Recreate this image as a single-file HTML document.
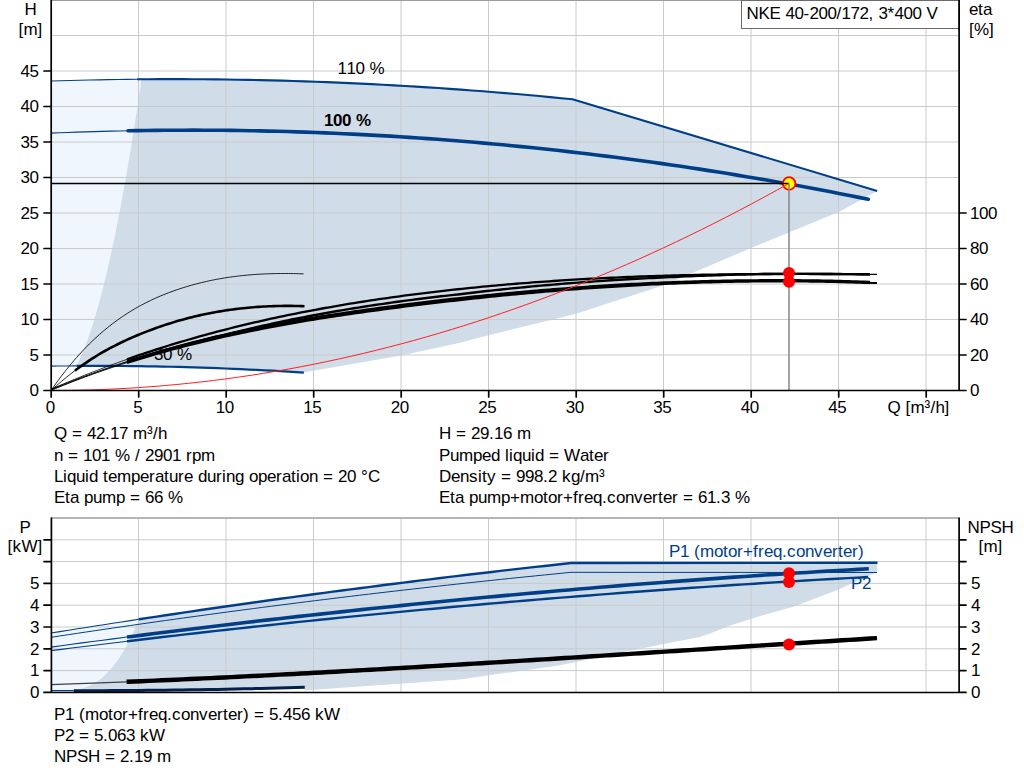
<!DOCTYPE html><html><head><meta charset="utf-8"><style>html,body{margin:0;padding:0;background:#fff;overflow:hidden}svg{display:block}text{font-family:"Liberation Sans",sans-serif;font-size:17px;fill:#000}</style></head><body>
<svg width="1024" height="781" viewBox="0 0 1024 781">
<polygon points="51.00,81.00 61.05,80.71 71.11,80.44 81.16,80.19 91.21,79.98 101.26,79.79 111.32,79.62 121.37,79.48 131.42,79.36 141.47,79.27 141.47,79.27 139.23,94.51 136.99,109.37 134.75,123.84 132.50,137.93 130.26,151.64 128.02,164.97 125.78,177.91 123.53,190.47 121.29,202.65 119.05,214.45 116.80,225.86 114.56,236.89 112.32,247.54 110.08,257.81 107.83,267.69 105.59,277.19 103.35,286.31 101.10,295.05 98.86,303.40 96.62,311.37 94.38,318.96 92.13,326.17 89.89,332.99 87.65,339.44 85.41,345.49 83.16,351.17 80.92,356.46 78.68,361.38 76.43,365.90 76.43,365.90 73.61,365.92 70.78,365.94 67.96,365.96 65.13,365.98 62.30,366.01 59.48,366.03 56.65,366.06 53.83,366.09 51.00,366.13" fill="#eff6fe" fill-opacity="1"/>
<polygon points="141.47,79.27 152.53,79.20 163.58,79.16 174.63,79.15 185.68,79.18 196.73,79.23 207.79,79.31 218.84,79.43 229.89,79.57 240.94,79.75 251.99,79.95 263.05,80.19 274.10,80.46 285.15,80.76 296.20,81.09 307.25,81.45 318.31,81.84 329.36,82.26 340.41,82.71 351.46,83.19 362.51,83.71 373.57,84.25 384.62,84.83 395.67,85.43 406.72,86.07 417.77,86.73 428.82,87.43 439.88,88.16 450.93,88.92 461.98,89.71 473.03,90.53 484.08,91.38 495.14,92.26 506.19,93.18 517.24,94.12 528.29,95.10 539.34,96.10 550.40,97.14 561.45,98.20 572.50,99.30 877.20,190.90 877.20,190.90 838.75,212.00 751.00,248.00 663.00,285.60 576.00,313.80 488.75,335.30 459.00,343.00 401.00,355.60 304.70,372.20 303.88,372.56 296.03,372.08 288.19,371.60 280.35,371.15 272.50,370.72 264.66,370.30 256.82,369.91 248.98,369.53 241.13,369.17 233.29,368.83 225.45,368.51 217.60,368.20 209.76,367.92 201.92,367.65 194.08,367.40 186.23,367.17 178.39,366.96 170.55,366.77 162.70,366.60 154.86,366.44 147.02,366.30 139.18,366.18 131.33,366.08 123.49,366.00 115.65,365.94 107.81,365.90 99.96,365.87 92.12,365.86 84.28,365.87 76.43,365.90 76.43,365.90 78.68,361.38 80.92,356.46 83.16,351.17 85.41,345.49 87.65,339.44 89.89,332.99 92.13,326.17 94.38,318.96 96.62,311.37 98.86,303.40 101.10,295.05 103.35,286.31 105.59,277.19 107.83,267.69 110.08,257.81 112.32,247.54 114.56,236.89 116.80,225.86 119.05,214.45 121.29,202.65 123.53,190.47 125.78,177.91 128.02,164.97 130.26,151.64 132.50,137.93 134.75,123.84 136.99,109.37 139.23,94.51 141.47,79.27" fill="#d0dce8" fill-opacity="1"/>
<path d="M138.50,1V390M226.00,1V390M313.50,1V390M401.00,1V390M488.50,1V390M576.00,1V390M663.50,1V390M751.00,1V390M838.50,1V390M926.00,1V390M52,355.00H958M52,319.50H958M52,284.00H958M52,248.50H958M52,213.00H958M52,177.50H958M52,142.00H958M52,106.50H958M52,71.00H958M52,35.50H958" stroke="#c8cacc" stroke-width="1" fill="none"/>
<path d="M51,0.5H959" stroke="#9a9da0" stroke-width="1.2"/>
<polyline points="51.00,81.00 60.57,80.72 70.13,80.46 79.70,80.23 89.27,80.02 98.83,79.83 108.40,79.66 117.97,79.52 127.53,79.40 137.10,79.31" fill="none" stroke="#003f87" stroke-width="1.1" stroke-linejoin="round" />
<polyline points="137.10,79.31 148.26,79.22 159.43,79.17 170.59,79.15 181.76,79.16 192.92,79.21 204.08,79.28 215.25,79.39 226.41,79.52 237.58,79.69 248.74,79.89 259.90,80.12 271.07,80.38 282.23,80.67 293.40,81.00 304.56,81.36 315.73,81.74 326.89,82.16 338.05,82.61 349.22,83.09 360.38,83.60 371.55,84.15 382.71,84.72 393.87,85.33 405.04,85.97 416.20,86.64 427.37,87.34 438.53,88.07 449.69,88.83 460.86,89.63 472.02,90.45 483.19,91.31 494.35,92.20 505.52,93.12 516.68,94.07 527.84,95.06 539.01,96.07 550.17,97.11 561.34,98.19 572.50,99.30 877.20,190.90" fill="none" stroke="#003f87" stroke-width="2.1" stroke-linejoin="round" />
<polyline points="51.00,133.12 59.56,132.78 68.11,132.45 76.67,132.14 85.22,131.86 93.78,131.60 102.33,131.36 110.89,131.14 119.44,130.94 128.00,130.77" fill="none" stroke="#003f87" stroke-width="1.1" stroke-linejoin="round" />
<polyline points="128.00,130.77 137.37,130.60 146.74,130.47 156.11,130.35 165.48,130.27 174.85,130.21 184.22,130.18 193.59,130.17 202.96,130.19 212.33,130.24 221.70,130.31 231.07,130.41 240.44,130.54 249.81,130.69 259.18,130.87 268.55,131.08 277.92,131.31 287.29,131.57 296.66,131.85 306.03,132.17 315.41,132.50 324.78,132.87 334.15,133.26 343.52,133.68 352.89,134.12 362.26,134.59 371.63,135.09 381.00,135.61 390.37,136.16 399.74,136.74 409.11,137.34 418.48,137.97 427.85,138.62 437.22,139.31 446.59,140.02 455.96,140.75 465.33,141.51 474.70,142.30 484.07,143.11 493.44,143.96 502.81,144.82 512.18,145.72 521.55,146.64 530.92,147.58 540.29,148.56 549.66,149.56 559.03,150.58 568.40,151.64 577.77,152.71 587.14,153.82 596.51,154.95 605.88,156.11 615.25,157.29 624.62,158.51 633.99,159.74 643.36,161.01 652.73,162.30 662.10,163.62 671.47,164.96 680.84,166.33 690.22,167.73 699.59,169.15 708.96,170.60 718.33,172.08 727.70,173.58 737.07,175.11 746.44,176.66 755.81,178.24 765.18,179.85 774.55,181.49 783.92,183.15 793.29,184.84 802.66,186.55 812.03,188.29 821.40,190.06 830.77,191.85 840.14,193.67 849.51,195.52 858.88,197.39 868.25,199.29" fill="none" stroke="#003f87" stroke-width="3.6" stroke-linejoin="round" stroke-linecap="round"/>
<polyline points="51.00,366.13 53.83,366.09 56.65,366.06 59.48,366.03 62.30,366.01 65.13,365.98 67.96,365.96 70.78,365.94 73.61,365.92 76.43,365.90" fill="none" stroke="#003f87" stroke-width="1.1" stroke-linejoin="round" />
<polyline points="76.43,365.90 84.28,365.87 92.12,365.86 99.96,365.87 107.81,365.90 115.65,365.94 123.49,366.00 131.33,366.08 139.18,366.18 147.02,366.30 154.86,366.44 162.70,366.60 170.55,366.77 178.39,366.96 186.23,367.17 194.08,367.40 201.92,367.65 209.76,367.92 217.60,368.20 225.45,368.51 233.29,368.83 241.13,369.17 248.98,369.53 256.82,369.91 264.66,370.30 272.50,370.72 280.35,371.15 288.19,371.60 296.03,372.08 303.88,372.56" fill="none" stroke="#003f87" stroke-width="2.2" stroke-linejoin="round" />
<text x="154 163 172 177" y="359.7">30 %</text>
<polyline points="51.10,390.37 53.65,386.71 56.20,383.14 58.75,379.65 61.30,376.24 63.85,372.92 66.40,369.68 68.95,366.52 71.50,363.43 74.05,360.43 76.61,357.50 79.16,354.65 81.71,351.87 84.26,349.17 86.81,346.54 89.36,343.98 91.91,341.48 94.46,339.06 97.01,336.70 99.56,334.41 102.11,332.18 104.66,330.01 107.21,327.91 109.76,325.87 112.31,323.89 114.86,321.96 117.41,320.10 119.96,318.28 122.51,316.53 125.06,314.82 127.62,313.17 130.17,311.57 132.72,310.02 135.27,308.52 137.82,307.06 140.37,305.65 142.92,304.29 145.47,302.96 148.02,301.69 150.57,300.45 153.12,299.25 155.67,298.09 158.22,296.97 160.77,295.88 163.32,294.83 165.87,293.81 168.42,292.82 170.97,291.87 173.52,290.95 176.07,290.05 178.63,289.18 181.18,288.34 183.73,287.53 186.28,286.74 188.83,285.98 191.38,285.25 193.93,284.54 196.48,283.86 199.03,283.21 201.58,282.58 204.13,281.97 206.68,281.39 209.23,280.83 211.78,280.29 214.33,279.78 216.88,279.29 219.43,278.83 221.98,278.38 224.53,277.96 227.08,277.56 229.64,277.18 232.19,276.82 234.74,276.49 237.29,276.17 239.84,275.87 242.39,275.59 244.94,275.33 247.49,275.09 250.04,274.87 252.59,274.67 255.14,274.48 257.69,274.31 260.24,274.16 262.79,274.03 265.34,273.91 267.89,273.80 270.44,273.72 272.99,273.65 275.54,273.59 278.09,273.55 280.65,273.52 283.20,273.51 285.75,273.51 288.30,273.52 290.85,273.55 293.40,273.59 295.95,273.64 298.50,273.71 301.05,273.78 303.60,273.87" fill="none" stroke="#000" stroke-width="0.85" stroke-linejoin="round" />
<polyline points="51.10,390.47 53.66,388.16 56.22,385.89 58.78,383.67 61.34,381.49 63.90,379.35 66.46,377.26 69.02,375.21 71.58,373.21 74.14,371.24 75.00,370.60" fill="none" stroke="#000" stroke-width="0.85" stroke-linejoin="round" />
<polyline points="75.00,370.60 76.70,369.32 79.26,367.45 81.82,365.62 84.37,363.82 86.93,362.08 89.49,360.37 92.05,358.71 94.61,357.08 97.17,355.50 99.73,353.96 102.29,352.46 104.85,351.00 107.41,349.58 109.97,348.20 112.53,346.86 115.09,345.54 117.65,344.26 120.21,343.01 122.77,341.79 125.33,340.60 127.89,339.43 130.45,338.28 133.01,337.16 135.57,336.06 138.13,334.98 140.69,333.92 143.25,332.89 145.81,331.88 148.36,330.88 150.92,329.91 153.48,328.96 156.04,328.03 158.60,327.13 161.16,326.24 163.72,325.37 166.28,324.53 168.84,323.71 171.40,322.90 173.96,322.12 176.52,321.36 179.08,320.61 181.64,319.89 184.20,319.19 186.76,318.50 189.32,317.84 191.88,317.20 194.44,316.57 197.00,315.97 199.56,315.38 202.12,314.81 204.68,314.26 207.24,313.73 209.79,313.22 212.35,312.73 214.91,312.26 217.47,311.80 220.03,311.37 222.59,310.95 225.15,310.54 227.71,310.16 230.27,309.79 232.83,309.45 235.39,309.11 237.95,308.80 240.51,308.50 243.07,308.22 245.63,307.96 248.19,307.71 250.75,307.48 253.31,307.27 255.87,307.07 258.43,306.89 260.99,306.72 263.55,306.57 266.11,306.43 268.67,306.32 271.23,306.21 273.78,306.12 276.34,306.05 278.90,305.99 281.46,305.95 284.02,305.92 286.58,305.91 289.14,305.91 291.70,305.92 294.26,305.95 296.82,305.99 299.38,306.05 301.94,306.12 304.50,306.20" fill="none" stroke="#000" stroke-width="2.6" stroke-linejoin="round" />
<polyline points="51.10,390.21 55.25,388.52 59.40,386.84 63.55,385.19 67.70,383.57 71.85,381.96 76.00,380.38 80.15,378.82 84.30,377.28 88.45,375.76 92.60,374.27 96.75,372.79 100.90,371.34 105.05,369.90 109.20,368.49 113.35,367.10 117.50,365.72 121.65,364.37 125.80,363.04 127.00,362.66" fill="none" stroke="#000" stroke-width="0.8" stroke-linejoin="round" />
<polyline points="51.10,390.21 55.25,388.48 59.40,386.76 63.55,385.07 67.70,383.40 71.85,381.75 76.00,380.13 80.15,378.53 84.30,376.95 88.45,375.39 92.60,373.85 96.75,372.33 100.90,370.84 105.05,369.36 109.20,367.91 113.35,366.47 117.50,365.06 121.65,363.67 125.80,362.29 127.00,361.90" fill="none" stroke="#000" stroke-width="0.8" stroke-linejoin="round" />
<polyline points="51.10,389.31 55.25,387.62 59.40,385.94 63.55,384.29 67.70,382.66 71.85,381.05 76.00,379.46 80.15,377.89 84.30,376.34 88.45,374.81 92.60,373.30 96.75,371.81 100.90,370.34 105.05,368.89 109.20,367.46 113.35,366.04 117.50,364.65 121.65,363.28 125.80,361.92 127.00,361.53" fill="none" stroke="#000" stroke-width="0.8" stroke-linejoin="round" />
<polyline points="51.10,389.31 55.25,387.50 59.40,385.70 63.55,383.93 67.70,382.18 71.85,380.45 76.00,378.74 80.15,377.05 84.30,375.38 88.45,373.73 92.60,372.10 96.75,370.49 100.90,368.90 105.05,367.33 109.20,365.78 113.35,364.25 117.50,362.73 121.65,361.24 125.80,359.76 127.00,359.34" fill="none" stroke="#000" stroke-width="0.8" stroke-linejoin="round" />
<polyline points="127.00,362.66 129.95,361.72 134.11,360.43 138.26,359.15 142.41,357.89 146.56,356.65 150.71,355.43 154.86,354.23 159.01,353.05 163.16,351.88 167.31,350.73 171.46,349.59 175.61,348.48 179.76,347.38 183.91,346.30 188.06,345.23 192.21,344.18 196.36,343.14 200.51,342.12 204.66,341.12 208.81,340.13 212.96,339.15 217.11,338.20 221.26,337.25 225.41,336.32 229.56,335.40 233.71,334.50 237.86,333.61 242.01,332.73 246.16,331.87 250.31,331.02 254.46,330.18 258.61,329.36 262.76,328.54 266.91,327.74 271.06,326.95 275.21,326.17 279.36,325.41 283.51,324.65 287.66,323.91 291.81,323.17 295.96,322.45 300.12,321.74 304.27,321.04 308.42,320.34 312.57,319.66 316.72,318.98 320.87,318.32 325.02,317.66 329.17,317.01 333.32,316.38 337.47,315.74 341.62,315.12 345.77,314.51 349.92,313.90 354.07,313.30 358.22,312.70 362.37,312.12 366.52,311.54 370.67,310.96 374.82,310.40 378.97,309.84 383.12,309.28 387.27,308.73 391.42,308.19 395.57,307.65 399.72,307.11 403.87,306.58 408.02,306.06 412.17,305.54 416.32,305.02 420.47,304.51 424.62,304.01 428.77,303.50 432.92,303.01 437.07,302.52 441.22,302.03 445.37,301.55 449.52,301.07 453.67,300.60 457.82,300.13 461.97,299.67 466.13,299.21 470.28,298.76 474.43,298.32 478.58,297.87 482.73,297.44 486.88,297.01 491.03,296.58 495.18,296.16 499.33,295.74 503.48,295.33 507.63,294.93 511.78,294.53 515.93,294.13 520.08,293.74 524.23,293.36 528.38,292.98 532.53,292.61 536.68,292.24 540.83,291.88 544.98,291.52 549.13,291.17 553.28,290.83 557.43,290.49 561.58,290.15 565.73,289.82 569.88,289.50 574.03,289.18 578.18,288.87 582.33,288.57 586.48,288.27 590.63,287.97 594.78,287.68 598.93,287.40 603.08,287.13 607.23,286.86 611.38,286.59 615.53,286.33 619.68,286.08 623.83,285.83 627.98,285.59 632.14,285.36 636.29,285.13 640.44,284.91 644.59,284.69 648.74,284.48 652.89,284.27 657.04,284.08 661.19,283.88 665.34,283.70 669.49,283.52 673.64,283.35 677.79,283.18 681.94,283.02 686.09,282.87 690.24,282.72 694.39,282.58 698.54,282.44 702.69,282.32 706.84,282.19 710.99,282.08 715.14,281.97 719.29,281.87 723.44,281.77 727.59,281.68 731.74,281.60 735.89,281.53 740.04,281.46 744.19,281.40 748.34,281.34 752.49,281.29 756.64,281.25 760.79,281.22 764.94,281.19 769.09,281.17 773.24,281.15 777.39,281.15 781.54,281.15 785.69,281.15 789.84,281.17 793.99,281.19 798.15,281.22 802.30,281.25 806.45,281.29 810.60,281.34 814.75,281.40 818.90,281.46 823.05,281.53 827.20,281.61 831.35,281.70 835.50,281.79 839.65,281.89 843.80,282.00 847.95,282.11 852.10,282.23 856.25,282.36 860.40,282.50 864.55,282.64 868.70,282.80 870.00,282.85" fill="none" stroke="#000" stroke-width="2.6" stroke-linejoin="round" />
<polyline points="127.00,361.90 129.95,360.93 134.11,359.60 138.26,358.28 142.41,356.98 146.56,355.70 150.71,354.44 154.86,353.19 159.01,351.97 163.16,350.76 167.31,349.57 171.46,348.39 175.61,347.23 179.76,346.09 183.91,344.97 188.06,343.86 192.21,342.77 196.36,341.69 200.51,340.63 204.66,339.58 208.81,338.55 212.96,337.54 217.11,336.53 221.26,335.55 225.41,334.58 229.56,333.62 233.71,332.70 237.86,331.81 242.01,330.93 246.16,330.07 250.31,329.22 254.46,328.38 258.61,327.56 262.76,326.74 266.91,325.94 271.06,325.15 275.21,324.37 279.36,323.61 283.51,322.85 287.66,322.11 291.81,321.37 295.96,320.65 300.12,319.94 304.27,319.24 308.42,318.54 312.57,317.86 316.72,317.18 320.87,316.52 325.02,315.86 329.17,315.21 333.32,314.58 337.47,313.94 341.62,313.32 345.77,312.71 349.92,312.10 354.07,311.50 358.22,310.90 362.37,310.32 366.52,309.74 370.67,309.16 374.82,308.60 378.97,308.04 383.12,307.48 387.27,306.93 391.42,306.39 395.57,305.85 399.72,305.31 403.87,304.78 408.02,304.26 412.17,303.74 416.32,303.22 420.47,302.71 424.62,302.21 428.77,301.70 432.92,301.21 437.07,300.72 441.22,300.23 445.37,299.75 449.52,299.27 453.67,298.80 457.82,298.33 461.97,297.88 466.13,297.43 470.28,296.99 474.43,296.56 478.58,296.13 482.73,295.71 486.88,295.29 491.03,294.87 495.18,294.46 499.33,294.06 503.48,293.66 507.63,293.27 511.78,292.88 515.93,292.50 520.08,292.12 524.23,291.75 528.38,291.39 532.53,291.03 536.68,290.67 540.83,290.32 544.98,289.98 549.13,289.64 553.28,289.31 557.43,288.98 561.58,288.66 565.73,288.34 569.88,288.03 574.03,287.73 578.18,287.43 582.33,287.13 586.48,286.85 590.63,286.57 594.78,286.29 598.93,286.02 603.08,285.76 607.23,285.50 611.38,285.24 615.53,285.00 619.68,284.76 623.83,284.52 627.98,284.30 632.14,284.07 636.29,283.86 640.44,283.65 644.59,283.44 648.74,283.24 652.89,283.05 657.04,282.87 661.19,282.69 665.34,282.52 669.49,282.35 673.64,282.19 677.79,282.03 681.94,281.89 686.09,281.74 690.24,281.61 694.39,281.48 698.54,281.36 702.69,281.24 706.84,281.13 710.99,281.03 715.14,280.94 719.29,280.85 723.44,280.76 727.59,280.69 731.74,280.62 735.89,280.55 740.04,280.50 744.19,280.45 748.34,280.41 752.49,280.37 756.64,280.34 760.79,280.32 764.94,280.29 769.09,280.27 773.24,280.25 777.39,280.25 781.54,280.25 785.69,280.25 789.84,280.27 793.99,280.29 798.15,280.32 802.30,280.35 806.45,280.39 810.60,280.44 814.75,280.50 818.90,280.56 823.05,280.63 827.20,280.71 831.35,280.80 835.50,280.89 839.65,280.99 843.80,281.10 847.95,281.21 852.10,281.33 856.25,281.46 860.40,281.60 864.55,281.74 868.70,281.90 870.00,281.95" fill="none" stroke="#000" stroke-width="2.4" stroke-linejoin="round" />
<polyline points="127.00,361.53 129.95,360.58 134.11,359.26 138.26,357.96 142.41,356.68 146.56,355.41 150.71,354.17 154.86,352.94 159.01,351.73 163.16,350.53 167.31,349.35 171.46,348.19 175.61,347.05 179.76,345.92 183.91,344.81 188.06,343.72 192.21,342.64 196.36,341.58 200.51,340.54 204.66,339.51 208.81,338.49 212.96,337.50 217.11,336.51 221.26,335.55 225.41,334.59 229.56,333.66 233.71,332.66 237.86,331.63 242.01,330.62 246.16,329.62 250.31,328.64 254.46,327.67 258.61,326.71 262.76,325.77 266.91,324.84 271.06,323.93 275.21,323.03 279.36,322.14 283.51,321.26 287.66,320.40 291.81,319.55 295.96,318.72 300.12,317.89 304.27,317.08 308.42,316.28 312.57,315.49 316.72,314.72 320.87,313.95 325.02,313.20 329.17,312.46 333.32,311.73 337.47,311.02 341.62,310.31 345.77,309.61 349.92,308.93 354.07,308.25 358.22,307.59 362.37,306.94 366.52,306.29 370.67,305.66 374.82,305.03 378.97,304.42 383.12,303.82 387.27,303.22 391.42,302.64 395.57,302.06 399.72,301.49 403.87,300.93 408.02,300.38 412.17,299.84 416.32,299.31 420.47,298.79 424.62,298.27 428.77,297.76 432.92,297.27 437.07,296.78 441.22,296.30 445.37,295.82 449.52,295.36 453.67,294.90 457.82,294.45 461.97,293.97 466.13,293.47 470.28,292.97 474.43,292.48 478.58,292.00 482.73,291.53 486.88,291.06 491.03,290.60 495.18,290.15 499.33,289.71 503.48,289.27 507.63,288.84 511.78,288.42 515.93,288.00 520.08,287.60 524.23,287.20 528.38,286.80 532.53,286.42 536.68,286.04 540.83,285.66 544.98,285.30 549.13,284.94 553.28,284.58 557.43,284.24 561.58,283.90 565.73,283.56 569.88,283.24 574.03,282.92 578.18,282.60 582.33,282.29 586.48,281.99 590.63,281.69 594.78,281.40 598.93,281.12 603.08,280.84 607.23,280.57 611.38,280.30 615.53,280.04 619.68,279.79 623.83,279.54 627.98,279.29 632.14,279.05 636.29,278.82 640.44,278.59 644.59,278.37 648.74,278.15 652.89,277.94 657.04,277.73 661.19,277.53 665.34,277.33 669.49,277.14 673.64,276.95 677.79,276.77 681.94,276.59 686.09,276.42 690.24,276.25 694.39,276.08 698.54,275.92 702.69,275.77 706.84,275.61 710.99,275.47 715.14,275.32 719.29,275.19 723.44,275.05 727.59,274.92 731.74,274.79 735.89,274.67 740.04,274.55 744.19,274.44 748.34,274.33 752.49,274.22 756.64,274.11 760.79,274.03 764.94,274.00 769.09,273.98 773.24,273.96 777.39,273.95 781.54,273.93 785.69,273.92 789.84,273.92 793.99,273.92 798.15,273.92 802.30,273.92 806.45,273.92 810.60,273.93 814.75,273.95 818.90,273.96 823.05,273.98 827.20,274.00 831.35,274.02 835.50,274.04 839.65,274.07 843.80,274.10 847.95,274.13 852.10,274.16 856.25,274.20 860.40,274.23 864.55,274.27 868.70,274.31 870.00,274.33" fill="none" stroke="#000" stroke-width="2.4" stroke-linejoin="round" />
<polyline points="127.00,359.34 129.95,358.30 134.11,356.87 138.26,355.44 142.41,354.04 146.56,352.66 150.71,351.29 154.86,349.94 159.01,348.61 163.16,347.29 167.31,346.00 171.46,344.72 175.61,343.45 179.76,342.21 183.91,340.98 188.06,339.76 192.21,338.57 196.36,337.38 200.51,336.22 204.66,335.07 208.81,333.94 212.96,332.82 217.11,331.72 221.26,330.63 225.41,329.56 229.56,328.50 233.71,327.46 237.86,326.43 242.01,325.42 246.16,324.42 250.31,323.44 254.46,322.47 258.61,321.51 262.76,320.57 266.91,319.64 271.06,318.73 275.21,317.83 279.36,316.94 283.51,316.06 287.66,315.20 291.81,314.35 295.96,313.52 300.12,312.69 304.27,311.88 308.42,311.08 312.57,310.29 316.72,309.52 320.87,308.75 325.02,308.00 329.17,307.26 333.32,306.53 337.47,305.82 341.62,305.11 345.77,304.41 349.92,303.73 354.07,303.05 358.22,302.39 362.37,301.74 366.52,301.09 370.67,300.46 374.82,299.83 378.97,299.22 383.12,298.62 387.27,298.02 391.42,297.44 395.57,296.86 399.72,296.29 403.87,295.73 408.02,295.18 412.17,294.64 416.32,294.11 420.47,293.59 424.62,293.07 428.77,292.56 432.92,292.07 437.07,291.58 441.22,291.10 445.37,290.62 449.52,290.16 453.67,289.70 457.82,289.25 461.97,288.81 466.13,288.38 470.28,287.95 474.43,287.53 478.58,287.12 482.73,286.72 486.88,286.33 491.03,285.94 495.18,285.56 499.33,285.19 503.48,284.82 507.63,284.47 511.78,284.12 515.93,283.77 520.08,283.44 524.23,283.11 528.38,282.79 532.53,282.47 536.68,282.16 540.83,281.86 544.98,281.57 549.13,281.28 553.28,281.00 557.43,280.73 561.58,280.46 565.73,280.20 569.88,279.94 574.03,279.69 578.18,279.45 582.33,279.21 586.48,278.98 590.63,278.76 594.78,278.54 598.93,278.33 603.08,278.12 607.23,277.92 611.38,277.73 615.53,277.54 619.68,277.35 623.83,277.18 627.98,277.00 632.14,276.84 636.29,276.68 640.44,276.52 644.59,276.37 648.74,276.22 652.89,276.08 657.04,275.95 661.19,275.82 665.34,275.69 669.49,275.57 673.64,275.45 677.79,275.34 681.94,275.24 686.09,275.13 690.24,275.04 694.39,274.94 698.54,274.86 702.69,274.77 706.84,274.69 710.99,274.62 715.14,274.55 719.29,274.48 723.44,274.42 727.59,274.36 731.74,274.30 735.89,274.25 740.04,274.21 744.19,274.16 748.34,274.12 752.49,274.09 756.64,274.05 760.79,274.03 764.94,274.00 769.09,273.98 773.24,273.96 777.39,273.95 781.54,273.93 785.69,273.92 789.84,273.92 793.99,273.92 798.15,273.92 802.30,273.92 806.45,273.92 810.60,273.93 814.75,273.95 818.90,273.96 823.05,273.98 827.20,274.00 831.35,274.02 835.50,274.04 839.65,274.07 843.80,274.10 847.95,274.13 852.10,274.16 856.25,274.20 860.40,274.23 864.55,274.27 868.70,274.31 870.00,274.33" fill="none" stroke="#000" stroke-width="2.3" stroke-linejoin="round" />
<polyline points="869.00,282.81 872.85,282.96 877.00,283.12" fill="none" stroke="#000" stroke-width="2.0" stroke-linejoin="round" />
<polyline points="869.00,274.32 872.85,274.36 877.00,274.40" fill="none" stroke="#000" stroke-width="1.2" stroke-linejoin="round" />
<circle cx="789.1" cy="183.5" r="6.3" fill="#ffff00" stroke="#ff0000" stroke-width="1.8"/>
<path d="M52,183.5H789" stroke="#000" stroke-width="1.3"/>
<path d="M789,183.5V390" stroke="#888" stroke-opacity="0.85" stroke-width="1.8"/>
<polyline points="51.00,390.50 63.51,390.44 76.02,390.26 88.52,389.96 101.03,389.55 113.54,389.01 126.05,388.36 138.56,387.59 151.06,386.69 163.57,385.68 176.08,384.55 188.59,383.30 201.10,381.93 213.60,380.45 226.11,378.84 238.62,377.12 251.13,375.27 263.64,373.31 276.14,371.23 288.65,369.03 301.16,366.71 313.67,364.27 326.18,361.71 338.69,359.03 351.19,356.24 363.70,353.32 376.21,350.29 388.72,347.14 401.23,343.86 413.73,340.47 426.24,336.96 438.75,333.34 451.26,329.59 463.77,325.72 476.27,321.74 488.78,317.63 501.29,313.41 513.80,309.07 526.31,304.60 538.81,300.02 551.32,295.32 563.83,290.51 576.34,285.57 588.85,280.51 601.35,275.34 613.86,270.04 626.37,264.63 638.88,259.10 651.39,253.45 663.89,247.68 676.40,241.79 688.91,235.78 701.42,229.65 713.93,223.41 726.43,217.04 738.94,210.56 751.45,203.96 763.96,197.23 776.47,190.39 788.98,183.43" fill="none" stroke="#ff2020" stroke-width="1" stroke-linejoin="round" />
<circle cx="789" cy="273.1" r="6" fill="#ff0000"/>
<circle cx="789" cy="281.7" r="6" fill="#ff0000"/>
<path d="M51.2,0V390.5H959.1M959.1,0V390.5M44,390.50H51.2M44,355.00H51.2M44,319.50H51.2M44,284.00H51.2M44,248.50H51.2M44,213.00H51.2M44,177.50H51.2M44,142.00H51.2M44,106.50H51.2M44,71.00H51.2M959.1,390.50H966M959.1,355.00H966M959.1,319.50H966M959.1,284.00H966M959.1,248.50H966M959.1,213.00H966M51.20,390.5V397M138.70,390.5V397M226.20,390.5V397M313.70,390.5V397M401.20,390.5V397M488.70,390.5V397M576.20,390.5V397M663.70,390.5V397M751.20,390.5V397M838.70,390.5V397M926.20,390.5V397" stroke="#000" stroke-width="1.7" stroke-linecap="round" fill="none"/>
<rect x="741.5" y="0.5" width="217.5" height="28" fill="#fff" stroke="#6a6a6a" stroke-width="1"/>
<path d="M959.1,0V30" stroke="#000" stroke-width="1.7"/>
<text x="746.5 758.5 769.5 780.5 785.5 794.5 803.5 809.5 818.5 827.5 836.5 841.5 850.5 859.5 868.5 873.5 878.5 887.5 894.5 903.5 912.5 921.5 926.5" y="18.8">NKE 40-200/172, 3*400 V</text>
<text x="24.5" y="15">H</text>
<text x="18.5 23.5 37.5" y="35">[m]</text>
<text x="969 978 983" y="15">eta</text>
<text x="969 974 989" y="35">[%]</text>
<text x="29.5" y="396.3">0</text>
<text x="29.5" y="360.8">5</text>
<text x="20.5 29.5" y="325.3">10</text>
<text x="20.5 29.5" y="289.8">15</text>
<text x="20.5 29.5" y="254.3">20</text>
<text x="20.5 29.5" y="218.8">25</text>
<text x="20.5 29.5" y="183.3">30</text>
<text x="20.5 29.5" y="147.8">35</text>
<text x="20.5 29.5" y="112.3">40</text>
<text x="20.5 29.5" y="76.8">45</text>
<text x="970" y="396.3">0</text>
<text x="970 979" y="360.8">20</text>
<text x="970 979" y="325.3">40</text>
<text x="970 979" y="289.8">60</text>
<text x="970 979" y="254.3">80</text>
<text x="970 979 988" y="218.8">100</text>
<text x="45.7" y="412.5">0</text>
<text x="133.2" y="412.5">5</text>
<text x="215.7 224.7" y="412.5">10</text>
<text x="303.2 312.2" y="412.5">15</text>
<text x="390.7 399.7" y="412.5">20</text>
<text x="478.2 487.2" y="412.5">25</text>
<text x="565.7 574.7" y="412.5">30</text>
<text x="653.2 662.2" y="412.5">35</text>
<text x="740.7 749.7" y="412.5">40</text>
<text x="828.2 837.2" y="412.5">45</text>
<text x="887.5 900.5 905.5 910.5 924.5 930.5 935.5 944.5" y="412.8">Q [m³/h]</text>
<text x="337.5 346.5 355.5 364.5 369.5" y="74">110 %</text>
<text x="324 333 342 351 356" y="125.6" font-weight="bold">100 %</text>
<text x="54 67 72 82 87 96 105 110 119 128 133 147 153 158" y="439">Q = 42.17 m³/h</text>
<text x="54 63 68 78 83 92 101 110 115 130 135 140 145 154 163 172 181 186 192 201" y="460.6">n = 101 % / 2901 rpm</text>
<text x="54 63 67 76 85 89 98 103 108 117 131 140 149 155 164 169 178 184 193 198 207 216 222 226 235 244 249 258 267 276 282 291 296 300 309 318 323 333 338 347 356 361 368" y="481.8">Liquid temperature during operation = 20 °C</text>
<text x="54 65 70 79 84 93 102 116 125 130 140 145 154 163 168" y="503.2">Eta pump = 66 %</text>
<text x="439 451 456 466 471 480 489 494 503 512 517" y="439">H = 29.16 m</text>
<text x="439 450 459 473 482 491 500 505 509 513 522 531 535 544 549 559 564 580 589 594 603" y="460.6">Pumped liquid = Water</text>
<text x="439 451 460 469 478 482 487 496 501 511 516 525 534 543 548 557 562 571 580 585 599" y="481.8">Density = 998.2 kg/m³</text>
<text x="439 450 455 464 469 478 487 501 510 520 534 543 548 557 563 573 578 584 593 602 607 616 625 634 643 652 658 663 672 678 683 693 698 707 716 721 730 735" y="503.2">Eta pump+motor+freq.converter = 61.3 %</text>
<polygon points="51.00,633.05 59.81,631.64 68.63,630.23 77.44,628.83 86.25,627.44 95.07,626.05 103.88,624.68 112.69,623.31 121.51,621.95 130.32,620.60 138.50,619.35 138.09,621.00 137.34,622.79 136.59,624.59 135.82,626.38 135.03,628.18 134.23,629.97 133.42,631.77 132.58,633.56 131.74,635.36 130.87,637.15 129.99,638.95 129.08,640.74 128.16,642.54 127.21,644.33 126.24,646.13 125.25,647.92 124.22,649.72 123.17,651.51 122.09,653.31 120.97,655.10 119.82,656.90 118.63,658.69 117.40,660.49 116.11,662.28 114.78,664.08 113.39,665.87 111.93,667.67 110.40,669.46 108.78,671.26 107.07,673.05 105.24,674.85 103.28,676.64 101.15,678.44 98.83,680.23 96.23,682.03 93.28,683.82 89.81,685.62 85.49,687.41 79.42,689.21 58.00,691.00 58.00,691.50 51.00,691.50" fill="#eff6fe" fill-opacity="1"/>
<polygon points="138.50,619.35 139.14,619.25 147.95,617.91 156.76,616.59 165.58,615.26 174.39,613.95 183.20,612.65 192.02,611.35 200.83,610.06 209.64,608.78 218.46,607.51 227.27,606.24 236.08,604.98 244.90,603.73 253.71,602.49 262.53,601.26 271.34,600.03 280.15,598.81 288.97,597.60 297.78,596.40 306.59,595.21 315.41,594.02 324.22,592.84 333.03,591.67 341.85,590.51 350.66,589.35 359.47,588.21 368.29,587.07 377.10,585.94 385.92,584.81 394.73,583.70 403.54,582.59 412.36,581.49 421.17,580.40 429.98,579.32 438.80,578.24 447.61,577.17 456.42,576.12 465.24,575.06 474.05,574.02 482.86,572.98 491.68,571.96 500.49,570.93 509.31,569.92 518.12,568.92 526.93,567.92 535.75,566.93 544.56,565.95 553.37,564.98 562.19,564.01 571.00,563.06 877.50,562.70 877.00,562.90 877.00,572.00 838.60,589.50 793.30,606.70 762.80,615.30 730.00,625.50 710.30,633.40 698.60,637.30 663.40,644.00 600.00,657.00 560.00,665.20 460.00,679.50 313.60,689.70 304.80,690.60 304.80,687.20 296.05,687.47 287.30,687.72 278.54,687.97 269.79,688.21 261.04,688.43 252.29,688.65 243.54,688.85 234.79,689.04 226.03,689.22 217.28,689.39 208.53,689.55 199.78,689.70 191.03,689.84 182.28,689.97 173.52,690.09 164.77,690.19 156.02,690.29 147.27,690.37 138.52,690.45 129.77,690.51 121.01,690.57 112.26,690.61 103.51,690.64 94.76,690.66 86.01,690.67 77.26,690.67 68.50,690.66 59.75,690.63 58.00,691.00 79.42,689.21 85.49,687.41 89.81,685.62 93.28,683.82 96.23,682.03 98.83,680.23 101.15,678.44 103.28,676.64 105.24,674.85 107.07,673.05 108.78,671.26 110.40,669.46 111.93,667.67 113.39,665.87 114.78,664.08 116.11,662.28 117.40,660.49 118.63,658.69 119.82,656.90 120.97,655.10 122.09,653.31 123.17,651.51 124.22,649.72 125.25,647.92 126.24,646.13 127.21,644.33 128.16,642.54 129.08,640.74 129.99,638.95 130.87,637.15 131.74,635.36 132.58,633.56 133.42,631.77 134.23,629.97 135.03,628.18 135.82,626.38 136.59,624.59 137.34,622.79 138.09,621.00" fill="#d0dce8" fill-opacity="1"/>
<path d="M138.50,519V692M226.00,519V692M313.50,519V692M401.00,519V692M488.50,519V692M576.00,519V692M663.50,519V692M751.00,519V692M838.50,519V692M926.00,519V692M52,670.60H958M52,648.80H958M52,627.00H958M52,605.20H958M52,583.40H958M52,561.60H958M52,539.80H958" stroke="#c8cacc" stroke-width="1" fill="none"/>
<path d="M51,518H959" stroke="#9a9da0" stroke-width="1.4"/>
<polyline points="51.00,633.05 59.81,631.64 68.63,630.23 77.44,628.83 86.25,627.44 95.07,626.05 103.88,624.68 112.69,623.31 121.51,621.95 130.32,620.60 138.60,619.33" fill="none" stroke="#003f87" stroke-width="1.1" stroke-linejoin="round" />
<polyline points="138.60,619.33 139.14,619.25 147.95,617.91 156.76,616.59 165.58,615.26 174.39,613.95 183.20,612.65 192.02,611.35 200.83,610.06 209.64,608.78 218.46,607.51 227.27,606.24 236.08,604.98 244.90,603.73 253.71,602.49 262.53,601.26 271.34,600.03 280.15,598.81 288.97,597.60 297.78,596.40 306.59,595.21 315.41,594.02 324.22,592.84 333.03,591.67 341.85,590.51 350.66,589.35 359.47,588.21 368.29,587.07 377.10,585.94 385.92,584.81 394.73,583.70 403.54,582.59 412.36,581.49 421.17,580.40 429.98,579.32 438.80,578.24 447.61,577.17 456.42,576.12 465.24,575.06 474.05,574.02 482.86,572.98 491.68,571.96 500.49,570.93 509.31,569.92 518.12,568.92 526.93,567.92 535.75,566.93 544.56,565.95 553.37,564.98 562.19,564.01 571.00,563.06 877.50,562.70" fill="none" stroke="#003f87" stroke-width="2.4" stroke-linejoin="round" />
<polyline points="51.00,637.31 59.81,635.96 68.63,634.63 77.44,633.30 86.25,631.98 95.07,630.67 103.88,629.37 112.69,628.08 121.51,626.79 130.32,625.52 139.14,624.25 147.95,622.99 156.76,621.74 165.58,620.50 174.39,619.26 183.20,618.03 192.02,616.82 200.83,615.61 209.64,614.41 218.46,613.21 227.27,612.03 236.08,610.85 244.90,609.68 253.71,608.52 262.53,607.37 271.34,606.23 280.15,605.10 288.97,603.97 297.78,602.85 306.59,601.74 315.41,600.64 324.22,599.55 333.03,598.46 341.85,597.39 350.66,596.32 359.47,595.26 368.29,594.21 377.10,593.17 385.92,592.13 394.73,591.11 403.54,590.09 412.36,589.08 421.17,588.08 429.98,587.09 438.80,586.10 447.61,585.13 456.42,584.16 465.24,583.20 474.05,582.25 482.86,581.31 491.68,580.37 500.49,579.45 509.31,578.53 518.12,577.62 526.93,576.72 535.75,575.83 544.56,574.95 553.37,574.07 562.19,573.20 571.00,572.34 877.00,572.50" fill="none" stroke="#003f87" stroke-width="1.0" stroke-linejoin="round" />
<polyline points="51.00,647.09 61.35,645.69 71.70,644.30 82.06,642.92 92.41,641.55 102.76,640.19 113.11,638.85 123.46,637.51 127.00,637.05" fill="none" stroke="#003f87" stroke-width="1.1" stroke-linejoin="round" />
<polyline points="127.00,637.05 133.82,636.18 144.17,634.87 154.52,633.56 164.87,632.26 175.22,630.98 185.57,629.71 195.93,628.44 206.28,627.19 216.63,625.95 226.98,624.71 237.33,623.49 247.69,622.28 258.04,621.08 268.39,619.89 278.74,618.71 289.09,617.54 299.45,616.38 309.80,615.23 320.15,614.09 330.50,612.97 340.85,611.85 351.21,610.74 361.56,609.65 371.91,608.56 382.26,607.49 392.61,606.42 402.96,605.37 413.32,604.32 423.67,603.29 434.02,602.27 444.37,601.25 454.72,600.25 465.08,599.26 475.43,598.28 485.78,597.31 496.13,596.35 506.48,595.40 516.84,594.46 527.19,593.53 537.54,592.62 547.89,591.71 558.24,590.81 568.59,589.92 578.95,589.05 589.30,588.18 599.65,587.33 610.00,586.48 620.35,585.65 630.71,584.83 641.06,584.01 651.41,583.21 661.76,582.42 672.11,581.64 682.47,580.86 692.82,580.10 703.17,579.35 713.52,578.61 723.87,577.88 734.23,577.16 744.58,576.46 754.93,575.76 765.28,575.07 775.63,574.39 785.98,573.73 796.34,573.07 806.69,572.43 817.04,571.79 827.39,571.17 837.74,570.55 848.10,569.95 858.45,569.36 868.80,568.77" fill="none" stroke="#003f87" stroke-width="3.6" stroke-linejoin="round" />
<polyline points="51.00,650.63 61.34,649.33 71.68,648.03 82.03,646.74 92.37,645.46 102.71,644.20 113.05,642.94 123.39,641.69 127.00,641.26" fill="none" stroke="#003f87" stroke-width="1.1" stroke-linejoin="round" />
<polyline points="127.00,641.26 133.73,640.45 144.08,639.22 154.42,638.00 164.76,636.79 175.10,635.59 185.44,634.40 195.78,633.22 206.13,632.04 216.47,630.88 226.81,629.73 237.15,628.59 247.49,627.45 257.84,626.33 268.18,625.22 278.52,624.11 288.86,623.02 299.20,621.93 309.54,620.85 319.89,619.79 330.23,618.73 340.57,617.68 350.91,616.65 361.25,615.62 371.59,614.60 381.94,613.59 392.28,612.59 402.62,611.61 412.96,610.63 423.30,609.66 433.65,608.70 443.99,607.74 454.33,606.80 464.67,605.87 475.01,604.95 485.35,604.04 495.70,603.13 506.04,602.24 516.38,601.36 526.72,600.48 537.06,599.62 547.41,598.77 557.75,597.92 568.09,597.08 578.43,596.26 588.77,595.44 599.11,594.64 609.46,593.84 619.80,593.05 630.14,592.27 640.48,591.51 650.82,590.75 661.16,590.00 671.51,589.26 681.85,588.53 692.19,587.81 702.53,587.10 712.87,586.40 723.22,585.71 733.56,585.03 743.90,584.35 754.24,583.69 764.58,583.04 774.92,582.40 785.27,581.76 795.61,581.14 805.95,580.52 816.29,579.92 826.63,579.32 836.97,578.74 847.32,578.16 857.66,577.60 868.00,577.04" fill="none" stroke="#003f87" stroke-width="2.4" stroke-linejoin="round" />
<polyline points="51.00,684.67 57.94,684.42 64.88,684.18 71.82,683.93 78.76,683.67 85.71,683.42 92.65,683.15 99.59,682.89 106.53,682.61 113.47,682.34 120.41,682.06 126.50,681.81" fill="none" stroke="#404040" stroke-width="1.2" stroke-linejoin="round" />
<polyline points="126.50,681.81 127.35,681.78 134.29,681.49 141.24,681.20 148.18,680.91 155.12,680.61 162.06,680.30 169.00,680.00 175.94,679.69 182.88,679.38 189.82,679.06 196.76,678.74 203.71,678.42 210.65,678.09 217.59,677.76 224.53,677.43 231.47,677.09 238.41,676.75 245.35,676.41 252.29,676.06 259.24,675.71 266.18,675.36 273.12,675.01 280.06,674.65 287.00,674.29 293.94,673.93 300.88,673.56 307.82,673.19 314.76,672.82 321.71,672.44 328.65,672.07 335.59,671.69 342.53,671.31 349.47,670.92 356.41,670.54 363.35,670.15 370.29,669.76 377.24,669.36 384.18,668.97 391.12,668.57 398.06,668.17 405.00,667.77 411.94,667.36 418.88,666.96 425.82,666.55 432.76,666.14 439.71,665.73 446.65,665.31 453.59,664.90 460.53,664.48 467.47,664.06 474.41,663.64 481.35,663.22 488.29,662.80 495.24,662.37 502.18,661.95 509.12,661.52 516.06,661.09 523.00,660.66 529.94,660.23 536.88,659.80 543.82,659.36 550.76,658.93 557.71,658.49 564.65,658.05 571.59,657.62 578.53,657.18 585.47,656.74 592.41,656.30 599.35,655.86 606.29,655.42 613.24,654.97 620.18,654.53 627.12,654.09 634.06,653.64 641.00,653.20 647.94,652.75 654.88,652.31 661.82,651.86 668.76,651.42 675.71,650.97 682.65,650.53 689.59,650.08 696.53,649.63 703.47,649.19 710.41,648.74 717.35,648.29 724.29,647.85 731.24,647.40 738.18,646.95 745.12,646.51 752.06,646.06 759.00,645.62 765.94,645.17 772.88,644.73 779.82,644.28 786.76,643.84 793.71,643.40 800.65,642.95 807.59,642.51 814.53,642.07 821.47,641.63 828.41,641.19 835.35,640.75 842.29,640.32 849.24,639.88 856.18,639.44 863.12,639.01 870.06,638.57 877.00,638.14" fill="none" stroke="#000" stroke-width="4.4" stroke-linejoin="round" />
<polyline points="51.00,690.60 59.75,690.63 68.50,690.66 73.80,690.66" fill="none" stroke="#003f87" stroke-width="1.2" stroke-linejoin="round" />
<polyline points="73.80,690.66 77.26,690.67 86.01,690.67 94.76,690.66 103.51,690.64 112.26,690.61 121.01,690.57 129.77,690.51 138.52,690.45 147.27,690.37 156.02,690.29 164.77,690.19 173.52,690.09 182.28,689.97 191.03,689.84 199.78,689.70 208.53,689.55 217.28,689.39 226.03,689.22 234.79,689.04 243.54,688.85 252.29,688.65 261.04,688.43 269.79,688.21 278.54,687.97 287.30,687.72 296.05,687.47 304.80,687.20" fill="none" stroke="#05204a" stroke-width="3" stroke-linejoin="round" />
<circle cx="789" cy="573.2" r="6" fill="#ff0000"/>
<circle cx="789" cy="582" r="6" fill="#ff0000"/>
<circle cx="789" cy="644.5" r="6" fill="#ff0000"/>
<text x="669 680 689 694 700 714 723 728 737 743 753 758 764 773 782 787 796 805 814 823 832 838 843 852 858" y="557.4" style="fill:#003f87">P1 (motor+freq.converter)</text>
<text x="851 862" y="589" style="fill:#003f87">P2</text>
<path d="M51.4,518V692.5H959.1M959.1,518V692.5M44,692.40H51.4M959.1,692.40H966M44,670.60H51.4M959.1,670.60H966M44,648.80H51.4M959.1,648.80H966M44,627.00H51.4M959.1,627.00H966M44,605.20H51.4M959.1,605.20H966M44,583.40H51.4M959.1,583.40H966M44,561.60H51.4M959.1,561.60H966M44,539.80H51.4M959.1,539.80H966" stroke="#000" stroke-width="1.7" stroke-linecap="round" fill="none"/>
<text x="19.5" y="533">P</text>
<text x="7.5 12.5 21.5 37.5" y="552">[kW]</text>
<text x="967.5 979.5 990.5 1001.5" y="533">NPSH</text>
<text x="978.5 983.5 997.5" y="552">[m]</text>
<text x="30" y="698.2">0</text>
<text x="971" y="698.2">0</text>
<text x="30" y="676.4">1</text>
<text x="971" y="676.4">1</text>
<text x="30" y="654.6">2</text>
<text x="971" y="654.6">2</text>
<text x="30" y="632.8">3</text>
<text x="971" y="632.8">3</text>
<text x="30" y="611.0">4</text>
<text x="971" y="611.0">4</text>
<text x="30" y="589.2">5</text>
<text x="971" y="589.2">5</text>
<text x="54 65 74 79 85 99 108 113 122 128 138 143 149 158 167 172 181 190 199 208 217 223 228 237 243 249 254 264 269 278 283 292 301 310 315 324" y="719.5">P1 (motor+freq.converter) = 5.456 kW</text>
<text x="54 65 74 79 89 94 103 108 117 126 135 140 149" y="740.8">P2 = 5.063 kW</text>
<text x="54 66 77 88 100 105 115 120 129 134 143 152 157" y="762.1">NPSH = 2.19 m</text>
</svg></body></html>
